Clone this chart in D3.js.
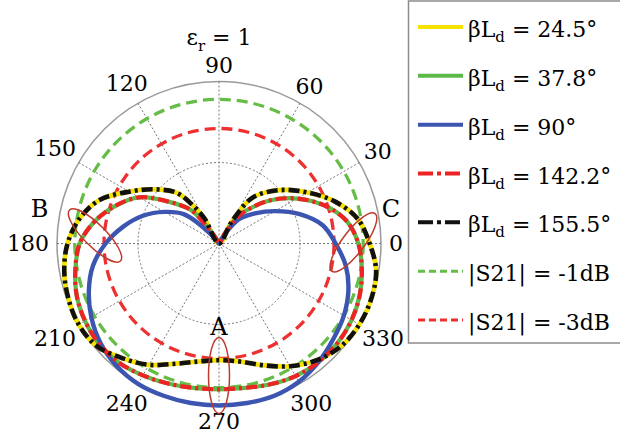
<!DOCTYPE html>
<html>
<head>
<meta charset="utf-8">
<script src="https://cdn.jsdelivr.net/npm/d3@7"></script>
<style>
  html, body { margin: 0; padding: 0; background: #fff; }
  svg { display: block; }
</style>
</head>
<body>
<svg id="chart" width="620" height="441"></svg>
<script>
// ---- data (angles in degrees, normalized magnitude 0..1) ----
const angles = [0,10,20,30,40,50,55,60,90,120,125,130,140,150,160,170,180,190,200,210,220,230,240,250,260,270,280,290,300,310,320,330,340,350];

const beta24_5  = [0.93,0.87,0.76,0.63,0.515,0.40,0.33,0.15,0,0.18,0.30,0.41,0.52,0.64,0.785,0.875,0.935,0.97,0.99,1.0,0.985,0.925,0.865,0.79,0.74,0.72,0.74,0.80,0.875,0.94,0.985,1.0,1.0,0.985];
const beta37_8  = [0.86,0.80,0.69,0.555,0.415,0.27,0.20,0.07,0,0.04,0.12,0.27,0.40,0.57,0.68,0.78,0.86,0.90,0.935,0.955,0.965,0.96,0.94,0.92,0.905,0.90,0.905,0.925,0.945,0.955,0.955,0.945,0.925,0.895];
const beta90    = [0.72,0.65,0.53,0.40,0.29,0.20,0.12,0.03,0,0,0,0.06,0.28,0.39,0.50,0.60,0.70,0.79,0.855,0.91,0.955,0.985,1.0,1.0,1.0,1.0,1.0,1.0,0.985,0.955,0.92,0.89,0.85,0.795];
const beta142_2 = [0.86,0.80,0.69,0.555,0.415,0.27,0.20,0.07,0,0.04,0.12,0.27,0.40,0.57,0.68,0.78,0.86,0.90,0.935,0.955,0.965,0.96,0.94,0.92,0.905,0.90,0.905,0.925,0.945,0.955,0.955,0.945,0.925,0.895];
const beta155_5 = [0.93,0.87,0.76,0.63,0.515,0.40,0.33,0.15,0,0.18,0.30,0.41,0.52,0.64,0.785,0.875,0.935,0.97,0.99,1.0,0.985,0.925,0.865,0.79,0.74,0.72,0.74,0.80,0.875,0.94,0.985,1.0,1.0,0.985];

const s21Labels = ["|S21| = -1dB", "|S21| = -3dB"];
const s21Radius = [0.89, 0.71];

const betaLabels = ["24.5°", "37.8°", "90°", "142.2°", "155.5°"];
const ringValues = [0.5, 1];
const spokeAngles = [0,30,60,90,120,150,180,210,240,270,300,330];
const tickLabels = ["0","30","60","90","120","150","180","210","240","270","300","330"];
const markerLabels = ["A","B","C"];

// ---- layout ----
const FONT = "'DejaVu Serif', 'Liberation Serif', serif";
const svg = d3.select("#chart").style("font-family", FONT);
const cx = 219, cy = 243.5, R = 162;
const r = d3.scaleLinear().domain([0, 1]).range([0, R]);
const toRad = d => d * Math.PI / 180;
const px = (deg, v) => cx + r(v) * Math.cos(toRad(deg));
const py = (deg, v) => cy - r(v) * Math.sin(toRad(deg));

const plot = svg.append("g").attr("transform", `translate(${cx},${cy})`);

// grid
plot.append("circle").attr("r", r(ringValues[1]))
  .attr("fill", "none").attr("stroke", "#9a9a9a").attr("stroke-width", 1.5);
plot.selectAll("circle.ring").data(ringValues.slice(0, 1)).enter().append("circle")
  .attr("class", "ring").attr("r", d => r(d))
  .attr("fill", "none").attr("stroke", "#777").attr("stroke-width", 1)
  .attr("stroke-dasharray", "2,2");
plot.selectAll("line.spoke").data(spokeAngles).enter().append("line")
  .attr("class", "spoke")
  .attr("x1", 0).attr("y1", 0)
  .attr("x2", d => r(1) * Math.cos(toRad(d)))
  .attr("y2", d => -r(1) * Math.sin(toRad(d)))
  .attr("stroke", "#777").attr("stroke-width", 1).attr("stroke-dasharray", "2,2");

// S21 reference circles
const s21Styles = [
  { color: "#66bd45" },
  { color: "#ee3030" }
];
plot.selectAll("circle.s21").data(s21Radius).enter().append("circle")
  .attr("class", "s21").attr("r", d => r(d))
  .attr("fill", "none")
  .attr("stroke", (d, i) => s21Styles[i].color)
  .attr("stroke-width", 3.3)
  .attr("stroke-dasharray", "11,6");

// pattern curves
const radial = d3.lineRadial()
  .angle(d => toRad(90 - d[0]))
  .radius(d => r(d[1]))
  .curve(d3.curveCatmullRomClosed.alpha(0.5));

const series = [
  { values: beta24_5,  color: "#f5e200", width: 4.6, dash: null },
  { values: beta37_8,  color: "#5cb848", width: 4.2, dash: null },
  { values: beta90,    color: "#3b55b0", width: 4.4, dash: null },
  { values: beta142_2, color: "#ee2424", width: 4.2, dash: "11,4,3,4" },
  { values: beta155_5, color: "#111111", width: 4.6, dash: "11,4,3,4" }
];
plot.selectAll("path.pattern").data(series).enter().append("path")
  .attr("class", "pattern")
  .attr("d", s => radial(angles.map((a, i) => [a, s.values[i]])))
  .attr("fill", "none")
  .attr("stroke", s => s.color)
  .attr("stroke-width", s => s.width)
  .attr("stroke-linejoin", "round")
  .attr("stroke-dasharray", s => s.dash);

// angle tick labels
const tl = svg.selectAll("text.tick").data(spokeAngles).enter().append("text")
  .attr("class", "tick")
  .style("font-family", FONT)
  .attr("font-size", 22)
  .attr("text-anchor", "middle")
  .attr("dominant-baseline", "central")
  .text((d, i) => tickLabels[i]);
tl.each(function(d) {
  const w = this.getComputedTextLength();
  const dist = r(1) + 16 + Math.abs(Math.cos(toRad(d))) * (w / 2 - 8);
  d3.select(this)
    .attr("x", cx + dist * Math.cos(toRad(d)))
    .attr("y", cy - dist * Math.sin(toRad(d)));
});

// annotation ellipses
const ellipseColor = "#c0392f";
const ellipses = [
  { deg: 270, v: 0.815, rx: 10.5, ry: 38, rot: 0 },
  { deg: 176.3, v: 0.767, rx: 36, ry: 11, rot: 45 },
  { deg: 0.5, v: 0.83, rx: 36, ry: 11, rot: -53 }
];
svg.selectAll("ellipse.mark").data(ellipses).enter().append("ellipse")
  .attr("class", "mark")
  .attr("transform", d => `translate(${px(d.deg, d.v)},${py(d.deg, d.v)}) rotate(${d.rot})`)
  .attr("rx", d => d.rx).attr("ry", d => d.ry)
  .attr("fill", "none").attr("stroke", ellipseColor).attr("stroke-width", 1.5);

const markerPos = [
  { deg: 270, v: 0.515 },
  { deg: 169, v: 1.128 },
  { deg: 11.5, v: 1.083 }
];
svg.selectAll("text.marker").data(markerLabels).enter().append("text")
  .attr("class", "marker")
  .style("font-family", FONT)
  .attr("font-size", 24)
  .attr("text-anchor", "middle")
  .attr("dominant-baseline", "central")
  .attr("x", (d, i) => px(markerPos[i].deg, markerPos[i].v))
  .attr("y", (d, i) => py(markerPos[i].deg, markerPos[i].v))
  .text(d => d);

// title
const title = svg.append("text").attr("x", cx).attr("y", 45)
  .style("font-family", FONT)
  .attr("text-anchor", "middle").attr("font-size", 22);
title.append("tspan").text("ε");
title.append("tspan").attr("font-size", 15).attr("dy", 6).text("r");
title.append("tspan").attr("dy", -6).text(" = 1");

// legend
const legend = svg.append("g");
legend.append("rect").attr("x", 408.5).attr("y", 1).attr("width", 230).attr("height", 342)
  .attr("fill", "#fff").attr("stroke", "#8c8c8c").attr("stroke-width", 1.5);

const legendItems = [
  ...series.map((s, i) => ({ kind: "beta", label: betaLabels[i], color: s.color, dash: s.dash, width: s.width })),
  ...s21Labels.map((l, i) => ({ kind: "s21", label: l, color: s21Styles[i].color, dash: "7,4", width: 3 }))
];
const ly = d3.scaleLinear().domain([0, legendItems.length - 1]).range([27, 320]);
const legendDash = d => d.kind === "s21" ? "7,4" : (d.dash ? "15,4,4,4" : null);

const rows = legend.selectAll("g.row").data(legendItems).enter().append("g")
  .attr("class", "row").attr("transform", (d, i) => `translate(0,${ly(i)})`);
rows.append("line").attr("x1", 418).attr("x2", 463).attr("y1", 0).attr("y2", 0)
  .attr("stroke", d => d.color).attr("stroke-width", d => d.kind === "s21" ? 3 : 4)
  .attr("stroke-dasharray", legendDash);
const lt = rows.append("text").attr("x", 468).attr("y", 10)
  .style("font-family", FONT).attr("font-size", 22);
lt.each(function(d) {
  const t = d3.select(this);
  if (d.kind === "beta") {
    t.append("tspan").text("βL");
    t.append("tspan").attr("font-size", 15).attr("dy", 5).text("d");
    t.append("tspan").attr("dy", -5).text(" = " + d.label);
  } else {
    t.text(d.label);
  }
});
</script>
</body>
</html>
